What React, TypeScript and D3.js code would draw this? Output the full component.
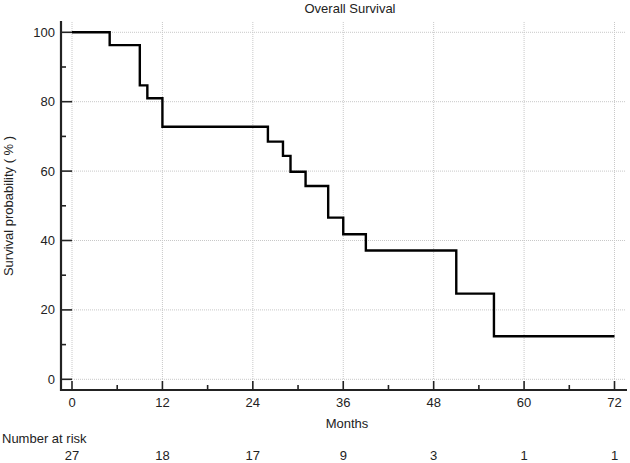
import React from "react";
import * as d3 from "d3";

const stepMonths = [0, 5, 9, 10, 12, 26, 28, 29, 31, 34, 36, 39, 51, 56];
const stepSurvival = [100, 96.3, 84.7, 81.0, 72.8, 68.5, 64.4, 59.8, 55.7, 46.6, 41.8, 37.1, 24.7, 12.4];
const endMonth = 72;
const xTicks = [0, 12, 24, 36, 48, 60, 72];
const xMinorTicks = [6, 18, 30, 42, 54, 66];
const yTicks = [0, 20, 40, 60, 80, 100];
const yMinorTicks = [10, 30, 50, 70, 90];
const atRiskMonths = [0, 12, 24, 36, 48, 60, 72];
const atRiskCounts = [27, 18, 17, 9, 3, 1, 1];

const W = 630;
const H = 463;
const FONT = "'Liberation Sans', Arial, sans-serif";
const FS = 13;

export default function App() {
  const x = d3.scaleLinear().domain([0, 72]).range([72, 614.5]);
  const y = d3.scaleLinear().domain([0, 100]).range([379.3, 32.3]);
  const axisX = 61;
  const axisY = 390;
  const gridTop = 22;
  const gridRight = 625;

  const pts: [number, number][] = stepMonths.map((m, i) => [m, stepSurvival[i]]);
  pts.push([endMonth, stepSurvival[stepSurvival.length - 1]]);
  const line = d3
    .line<[number, number]>()
    .x((d) => x(d[0]))
    .y((d) => y(d[1]))
    .curve(d3.curveStepAfter);

  return (
    <svg
      width={W}
      height={H}
      style={{ position: "absolute", left: 0, top: 0, background: "#fff" }}
      fontFamily={FONT}
    >
      <rect x={0} y={0} width={W} height={H} fill="#fff" />
      {xTicks.map((t) => (
        <line
          key={"gx" + t}
          x1={x(t)}
          x2={x(t)}
          y1={gridTop}
          y2={y(0)}
          stroke="#c8c8c8"
          strokeWidth={1}
          strokeDasharray="1,1"
        />
      ))}
      {yTicks.map((t) => (
        <line
          key={"gy" + t}
          x1={x(0)}
          x2={gridRight}
          y1={y(t)}
          y2={y(t)}
          stroke="#c8c8c8"
          strokeWidth={1}
          strokeDasharray="1,1"
        />
      ))}
      <line x1={axisX} x2={axisX} y1={gridTop - 1} y2={axisY + 1} stroke="#222" strokeWidth={2.2} />
      <line x1={axisX - 1} x2={627} y1={axisY} y2={axisY} stroke="#222" strokeWidth={2.2} />
      {yTicks.map((t) => (
        <g key={"yt" + t}>
          <line x1={axisX} x2={axisX + 11} y1={y(t)} y2={y(t)} stroke="#222" strokeWidth={1.6} />
          <text x={55} y={y(t)} dy="0.35em" textAnchor="end" fontSize={FS} fill="#222">
            {t}
          </text>
        </g>
      ))}
      {yMinorTicks.map((t) => (
        <line key={"ym" + t} x1={axisX} x2={axisX + 5} y1={y(t)} y2={y(t)} stroke="#222" strokeWidth={1.6} />
      ))}
      {xTicks.map((t) => (
        <g key={"xt" + t}>
          <line x1={x(t)} x2={x(t)} y1={axisY} y2={axisY - 9} stroke="#222" strokeWidth={1.6} />
          <text x={x(t)} y={402} dy="0.35em" textAnchor="middle" fontSize={FS} fill="#222">
            {t}
          </text>
        </g>
      ))}
      {xMinorTicks.map((t) => (
        <line key={"xm" + t} x1={x(t)} x2={x(t)} y1={axisY} y2={axisY - 5} stroke="#222" strokeWidth={1.6} />
      ))}
      <path d={line(pts) || ""} fill="none" stroke="#000" strokeWidth={2.4} strokeLinejoin="miter" />
      <text x={350} y={8} dy="0.35em" textAnchor="middle" fontSize={FS} fill="#222">
        Overall Survival
      </text>
      <text x={347} y={423} dy="0.35em" textAnchor="middle" fontSize={FS} fill="#222">
        Months
      </text>
      <text
        transform={`translate(8.5,206) rotate(-90)`}
        dy="0.35em"
        textAnchor="middle"
        fontSize={FS}
        fill="#222"
      >
        Survival probability ( % )
      </text>
      <text x={2} y={438} dy="0.35em" textAnchor="start" fontSize={FS} fill="#222">
        Number at risk
      </text>
      {atRiskMonths.map((m, i) => (
        <text key={"ar" + m} x={x(m)} y={455} dy="0.35em" textAnchor="middle" fontSize={FS} fill="#222">
          {atRiskCounts[i]}
        </text>
      ))}
    </svg>
  );
}
